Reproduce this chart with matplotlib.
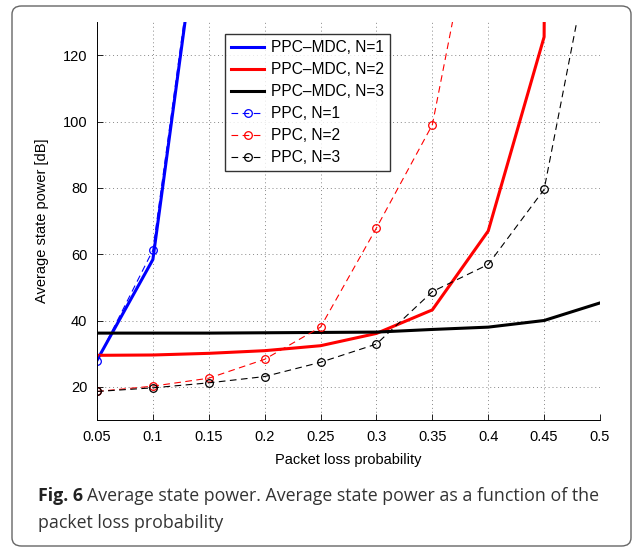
import matplotlib
matplotlib.use("Agg")
import matplotlib.pyplot as plt
from matplotlib.patches import FancyBboxPatch

# data
p_loss = [0.05, 0.1, 0.15, 0.2, 0.25, 0.3, 0.35, 0.4, 0.45, 0.5]

mdc_n1 = [28.0, 58.4, 183.0]
ppc_n1 = [27.8, 61.2, 185.0]

mdc_n2 = [29.5, 29.6, 30.1, 30.9, 32.4, 36.1, 43.2, 67.0, 125.5, 3000.0]
ppc_n2 = [18.6, 20.2, 22.6, 28.3, 38.0, 67.9, 99.0, 185.0]

mdc_n3 = [36.2, 36.2, 36.2, 36.3, 36.4, 36.5, 37.3, 38.0, 40.0, 45.3]
ppc_n3 = [18.6, 19.7, 21.2, 23.1, 27.4, 32.9, 48.7, 56.9, 79.5, 166.0]

xticks = [0.05, 0.1, 0.15, 0.2, 0.25, 0.3, 0.35, 0.4, 0.45, 0.5]
xtick_labels = ["0.05", "0.1", "0.15", "0.2", "0.25", "0.3", "0.35", "0.4", "0.45", "0.5"]
yticks = [20, 40, 60, 80, 100, 120]

plt.rcParams['font.family'] = ['Liberation Sans', 'DejaVu Sans']

fig = plt.figure(figsize=(6.35, 5.52), dpi=100)
W, H = 635, 552

# rounded frame around figure + caption
frame = FancyBboxPatch((12 / W, 6 / H), 619 / W, 540 / H,
                       boxstyle="round,pad=0,rounding_size=0.015",
                       transform=fig.transFigure, facecolor='none',
                       edgecolor='#666666', linewidth=1.0, zorder=-1)
fig.patches.append(frame)

ax = fig.add_axes([97 / W, 1 - 420 / H, 503 / W, 398 / H])

ax.plot(p_loss[:len(mdc_n1)], mdc_n1, color='#0000ff', lw=2.2, label='PPC\u2013MDC, N=1')
ax.plot(p_loss[:len(mdc_n2)], mdc_n2, color='#ff0000', lw=2.2, label='PPC\u2013MDC, N=2')
ax.plot(p_loss[:len(mdc_n3)], mdc_n3, color='black', lw=2.2, label='PPC\u2013MDC, N=3')
ax.plot(p_loss[:len(ppc_n1)], ppc_n1, color='#0000ff', lw=0.8, ls=(0, (6, 4)),
        marker='o', ms=5.5, mfc='none', mew=0.9, label='PPC, N=1')
ax.plot(p_loss[:len(ppc_n2)], ppc_n2, color='#ff0000', lw=0.8, ls=(0, (6, 4)),
        marker='o', ms=5.5, mfc='none', mew=0.9, label='PPC, N=2')
ax.plot(p_loss[:len(ppc_n3)], ppc_n3, color='black', lw=0.8, ls=(0, (6, 4)),
        marker='o', ms=5.5, mfc='none', mew=0.9, label='PPC, N=3')

ax.set_xlim(0.05, 0.5)
ax.set_ylim(10, 130)
ax.set_xticks(xticks)
ax.set_xticklabels(xtick_labels)
ax.set_yticks(yticks)
ax.tick_params(direction='in', labelsize=10.5, length=4, width=0.6, pad=7)
ax.grid(True, ls=(0, (1, 3)), color='#888888', lw=0.7)
for s in ['top', 'right']:
    ax.spines[s].set_visible(False)
for s in ['left', 'bottom']:
    ax.spines[s].set_linewidth(0.7)

ax.set_xlabel('Packet loss probability', fontsize=10.5, labelpad=7)
ax.set_ylabel('Average state power [dB]', fontsize=10.5, labelpad=10)

leg = ax.legend(loc='upper left', bbox_to_anchor=(0.2545, 0.97), fontsize=11.2,
                frameon=True, fancybox=False, edgecolor='black',
                handlelength=2.1, handletextpad=0.45, labelspacing=0.45,
                borderpad=0.4, borderaxespad=0)
leg.get_frame().set_linewidth(1.0)

# caption
cap_fs = 12.8
cap1 = fig.text(38 / W, 1 - 501 / H, 'Fig. 6', fontsize=cap_fs, fontweight='bold',
                family=['Open Sans', 'DejaVu Sans'], color='#222222', va='baseline')
fig.canvas.draw()
r = fig.canvas.get_renderer()
bb = cap1.get_window_extent(renderer=r)
fig.text((bb.x1 + 4) / W, 1 - 501 / H,
         'Average state power. Average state power as a function of the',
         fontsize=cap_fs, family=['Open Sans', 'DejaVu Sans'], color='#333333',
         va='baseline')
fig.text(38 / W, 1 - 528 / H, 'packet loss probability', fontsize=cap_fs,
         family=['Open Sans', 'DejaVu Sans'], color='#333333', va='baseline')

fig.savefig('out.png', dpi=100)
